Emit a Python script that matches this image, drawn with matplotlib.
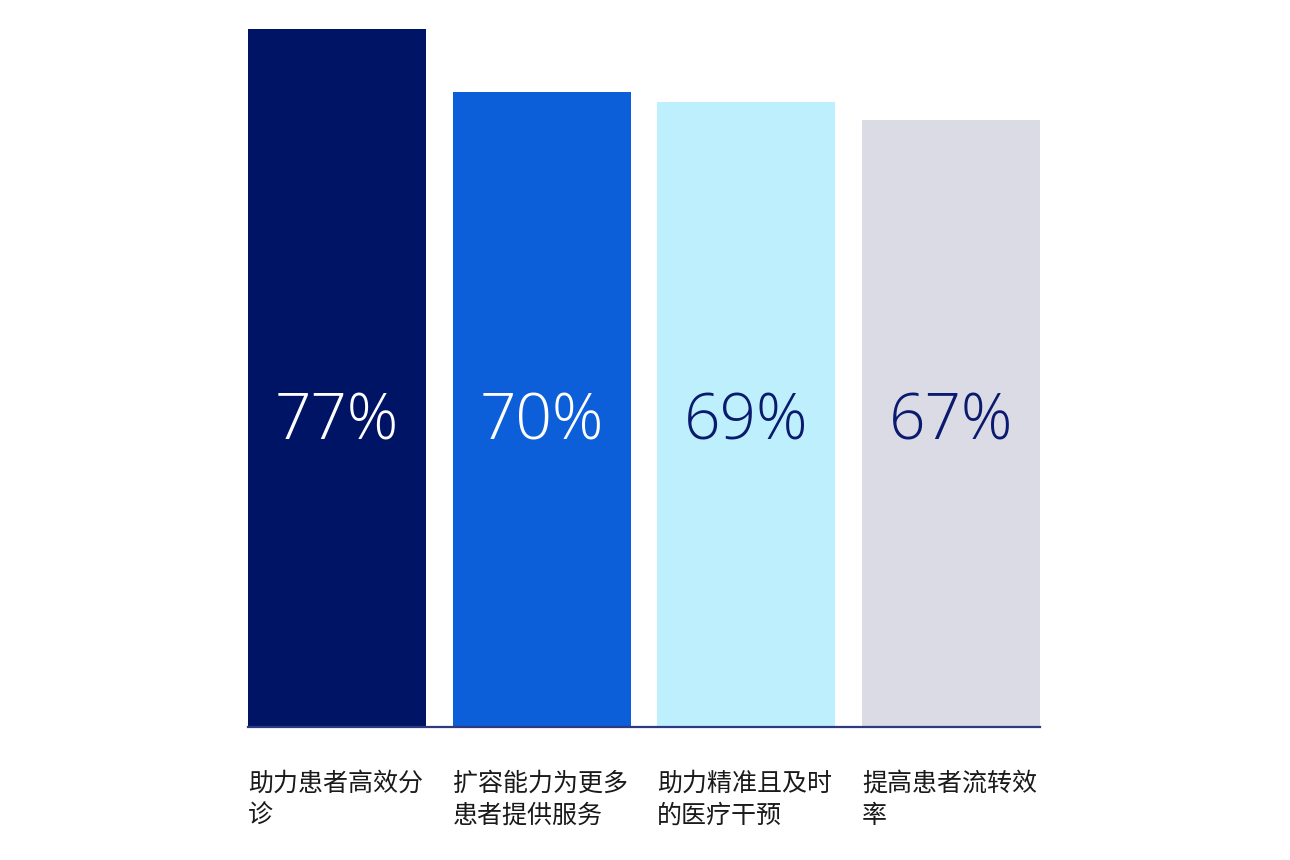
import matplotlib.pyplot as plt
import matplotlib.transforms as mtransforms

plt.rcParams['font.family'] = ['Noto Sans CJK SC', 'DejaVu Sans']

# Data
labels = ["助力患者高效分\n诊", "扩容能力为更多\n患者提供服务", "助力精准且及时\n的医疗干预", "提高患者流转效\n率"]
values = [77, 70, 69, 67]
bar_colors = ["#001466", "#0c5fd8", "#bdf0fc", "#dadbe5"]
text_colors = ["white", "white", "#0a1a6e", "#0a1a6e"]

W, H = 1290, 860
fig = plt.figure(figsize=(W / 100, H / 100), dpi=100)
ax = fig.add_axes([248 / W, 1 - 727 / H, (1040 - 248) / W, (727 - 29) / H])

width = 0.87
x = range(len(values))
ax.bar(x, values, width=width, color=bar_colors)
ax.set_xlim(-width / 2, len(values) - 1 + width / 2)
ax.set_ylim(0, 77)

for s in ["top", "right", "left"]:
    ax.spines[s].set_visible(False)
ax.spines["bottom"].set_color("#2e3a80")
ax.spines["bottom"].set_linewidth(1.6)
ax.set_xticks([])
ax.set_yticks([])

# value labels in the middle of the chart
trans_mid = mtransforms.blended_transform_factory(ax.transData, fig.transFigure)
for i, v in enumerate(values):
    ax.text(i, 1 - 423 / H, f"{v}%", transform=trans_mid, ha="center", va="center",
            fontsize=46, color=text_colors[i], fontweight="light",
            family=["Open Sans", "DejaVu Sans"])

# category labels under the bars
for i, lab in enumerate(labels):
    ax.text(i - width / 2, 1 - 771 / H, lab, transform=trans_mid, ha="left", va="top",
            fontsize=18, color="#1a1a1a", linespacing=1.3)

fig.savefig("out.png", dpi=100)
